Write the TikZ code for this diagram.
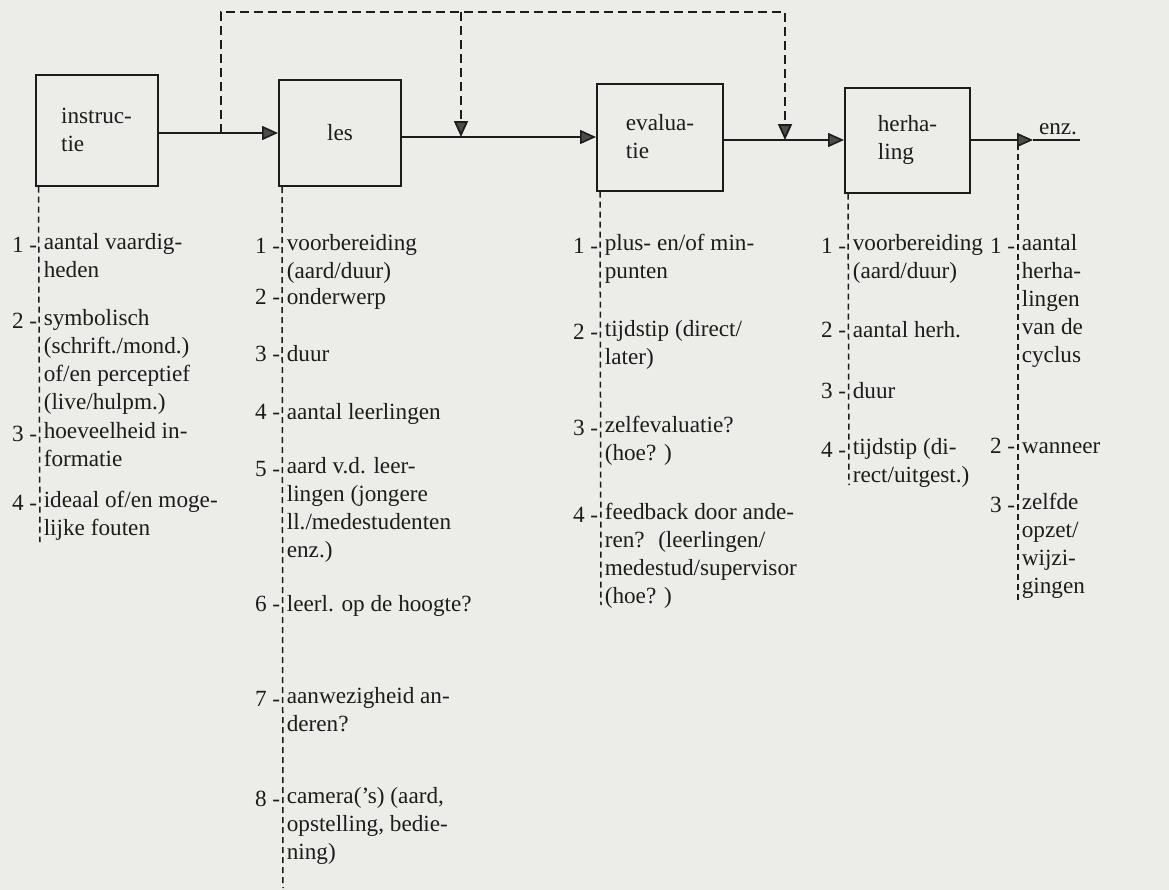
\documentclass[tikz,border=0pt]{standalone}
\usepackage{fontspec}
\setmainfont{Liberation Serif}
\usetikzlibrary{arrows.meta}
\definecolor{paper}{RGB}{236,236,233}
\definecolor{ink}{RGB}{28,28,28}

\begin{document}
\begin{tikzpicture}[x=0.5pt,y=-0.5pt,thick,
	font=\fontsize{11.6}{14}\selectfont,
	stepbox/.style={draw=ink,line width=1pt,rectangle,minimum width=61pt,align=left,inner sep=0pt,text=ink},
	flow/.style={draw=ink,line width=0.8pt,-{Triangle[length=8pt,width=7pt,fill=black!70]}},
	back/.style={draw=ink,line width=0.9pt,dash pattern=on 4.5pt off 2.5pt},
	column/.style={draw=ink,line width=0.75pt,dash pattern=on 3pt off 2pt},
	item/.style={anchor=north west,yshift=11.3pt,align=left,inner sep=1.5pt,text=ink,execute at begin node=\strut},
	num/.style={anchor=base east,yshift=-11.3pt,inner sep=1pt,text=ink}]

	\fill[paper] (0,0) rectangle (1169,890);
	\useasboundingbox (0,0) rectangle (1169,890);

	\begin{scope}[every node/.style={stepbox}]
		\node[minimum height=55.5pt] (instruc) at (96.5,130) {instruc-\\tie};
		\node[minimum height=53pt] (les) at (340,133) {les};
		\node[minimum width=63pt,minimum height=53.5pt] (evalua) at (660,137) {evalua-\\tie};
		\node[minimum width=62.5pt,minimum height=52.5pt] (herha) at (907.5,140) {herha-\\ling};
	\end{scope}

	\coordinate (enzarr) at (1033,140);
	\coordinate (enzend) at (1080,140);
	\node[text=ink,anchor=south,inner sep=2pt] (enz) at (1058,140) {enz.};

	\draw[flow] (instruc.east |- les.west) -- (les.west);
	\draw[flow] (les.east |- evalua.west) -- (evalua.west);
	\draw[flow] (evalua.east |- herha.west) -- (herha.west);
	\draw[flow] (herha.east) -- (enzarr);
	\draw[draw=ink,line width=0.8pt] (enzarr) -- (enzend);

	\coordinate (fb0) at (221,133);
	\coordinate (fb1) at (221,12);
	\coordinate (fb2) at (785,12);
	\coordinate (fb3) at (785,140);
	\coordinate (fbmid) at (461,12);
	\coordinate (fbmidend) at (461,137);
	\draw[back,-{Triangle[length=8pt,width=7pt,fill=black!70]}] (fb0) -- (fb1) -- (fb2) -- (fb3);
	\draw[back,-{Triangle[length=8pt,width=7pt,fill=black!70]}] (fbmid) -- (fbmidend);

	\coordinate (insend) at (40,542);
	\coordinate (lesend) at (283,888);
	\coordinate (evaend) at (601,605);
	\coordinate (herend) at (849,485);
	\coordinate (enztop) at (1018,144);
	\coordinate (enzbot) at (1018,600);
	\draw[column] ([xshift=2pt]instruc.south west) -- (insend);
	\draw[column] ([xshift=2pt]les.south west) -- (lesend);
	\draw[column] ([xshift=2pt]evalua.south west) -- (evaend);
	\draw[column] ([xshift=2pt]herha.south west) -- (herend);
	\draw[column] (enztop) -- (enzbot);

	\node[item] (ins1) at (40,252) {aantal vaardig-\\heden};
	\node[num] (ins1n) at (ins1.north west) {1 -};
	\node[item] (ins2) at (40,328) {symbolisch\\(schrift./mond.)\\of/en perceptief\\(live/hulpm.)};
	\node[num] (ins2n) at (ins2.north west) {2 -};
	\node[item] (ins3) at (40,441) {hoeveelheid in-\\formatie};
	\node[num] (ins3n) at (ins3.north west) {3 -};
	\node[item] (ins4) at (40,510) {ideaal of/en moge-\\lijke fouten};
	\node[num] (ins4n) at (ins4.north west) {4 -};

	\node[item] (les1) at (283,253) {voorbereiding\\(aard/duur)};
	\node[num] (les1n) at (les1.north west) {1 -};
	\node[item] (les2) at (283,304) {onderwerp};
	\node[num] (les2n) at (les2.north west) {2 -};
	\node[item] (les3) at (283,361) {duur};
	\node[num] (les3n) at (les3.north west) {3 -};
	\node[item] (les4) at (283,419) {aantal leerlingen};
	\node[num] (les4n) at (les4.north west) {4 -};
	\node[item] (les5) at (283,476) {aard v.d. leer-\\lingen (jongere\\ll./medestudenten\\enz.)};
	\node[num] (les5n) at (les5.north west) {5 -};
	\node[item] (les6) at (283,611) {leerl. op de hoogte?};
	\node[num] (les6n) at (les6.north west) {6 -};
	\node[item] (les7) at (283,706) {aanwezigheid an-\\deren?};
	\node[num] (les7n) at (les7.north west) {7 -};
	\node[item] (les8) at (283,806) {camera('s) (aard,\\opstelling, bedie-\\ning)};
	\node[num] (les8n) at (les8.north west) {8 -};

	\node[item] (eva1) at (601,253) {plus- en/of min-\\punten};
	\node[num] (eva1n) at (eva1.north west) {1 -};
	\node[item] (eva2) at (601,339) {tijdstip (direct/\\later)};
	\node[num] (eva2n) at (eva2.north west) {2 -};
	\node[item] (eva3) at (601,435) {zelfevaluatie?\\(hoe? )};
	\node[num] (eva3n) at (eva3.north west) {3 -};
	\node[item] (eva4) at (601,522) {feedback door ande-\\ren?~ (leerlingen/\\medestud/supervisor\\(hoe? )};
	\node[num] (eva4n) at (eva4.north west) {4 -};

	\node[item] (her1) at (849,253) {voorbereiding\\(aard/duur)};
	\node[num] (her1n) at (her1.north west) {1 -};
	\node[item] (her2) at (849,337) {aantal herh.};
	\node[num] (her2n) at (her2.north west) {2 -};
	\node[item] (her3) at (849,398) {duur};
	\node[num] (her3n) at (her3.north west) {3 -};
	\node[item] (her4) at (849,457) {tijdstip (di-\\rect/uitgest.)};
	\node[num] (her4n) at (her4.north west) {4 -};

	\node[item] (enz1) at (1018,253) {aantal\\herha-\\lingen\\van de\\cyclus};
	\node[num] (enz1n) at (enz1.north west) {1 -};
	\node[item] (enz2) at (1018,453) {wanneer};
	\node[num] (enz2n) at (enz2.north west) {2 -};
	\node[item] (enz3) at (1018,512) {zelfde\\opzet/\\wijzi-\\gingen};
	\node[num] (enz3n) at (enz3.north west) {3 -};

\end{tikzpicture}
\end{document}
